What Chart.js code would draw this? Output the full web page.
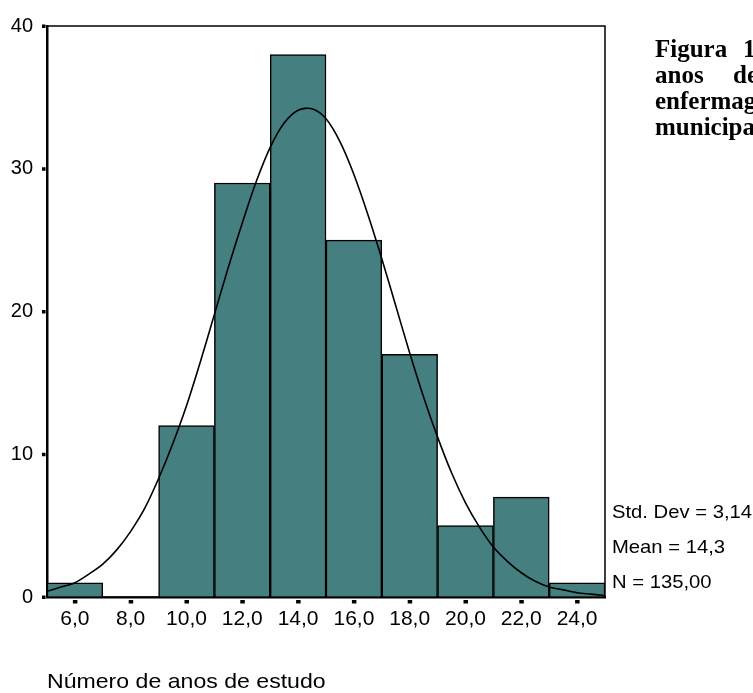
<!DOCTYPE html>
<html>
<head>
<meta charset="utf-8">
<script src="https://cdn.jsdelivr.net/npm/chart.js@4.4.1/dist/chart.umd.min.js"></script>
<style>
  html, body { margin: 0; padding: 0; background: #fff; overflow: hidden; }
  #wrap { position: relative; width: 753px; height: 693px; overflow: hidden; }
  #wrap canvas { position: absolute; left: 0; top: 0; }
  .txt { position: absolute; white-space: nowrap; color: #000; transform-origin: 0 0; }
  .sans { font-family: "Liberation Sans", Arial, sans-serif; }
  .stat { font-size: 19px; line-height: 19px; left: 612px; transform: scaleX(1.065); }
  .fig { font-family: "Liberation Serif", "Times New Roman", serif; font-weight: bold; font-size: 25px; line-height: 25px; }
</style>
</head>
<body>
<div id="wrap">
  <canvas id="histChart" width="753" height="693"></canvas>

  <div class="txt fig" style="left:655px; top:36px;">Figura</div>
  <div class="txt fig" style="left:743px; top:36px;">1.</div>
  <div class="txt fig" style="left:655px; top:62px;">anos</div>
  <div class="txt fig" style="left:733px; top:62px;">de</div>
  <div class="txt fig" style="left:655px; top:88px;">enfermagem</div>
  <div class="txt fig" style="left:655px; top:114px;">municipal</div>

  <div class="txt sans stat" style="top:502px;">Std. Dev = 3,14</div>
  <div class="txt sans stat" style="top:537px;">Mean = 14,3</div>
  <div class="txt sans stat" style="top:572px;">N = 135,00</div>

  <div class="txt sans" style="left:47px; top:670px; font-size:21px; line-height:21px; transform:scaleX(1.1);">Número de anos de estudo</div>
</div>
<script>
// histogram bins (centre of each 2-year class) and frequencies
const binCenters = [6, 8, 10, 12, 14, 16, 18, 20, 22, 24];
const counts = [1, 0, 12, 29, 38, 25, 17, 5, 7, 1];

// fitted normal curve
const curveX = [5, 5.5, 6, 6.5, 7, 7.5, 8, 8.5, 9, 9.5, 10, 10.5, 11, 11.5, 12, 12.5, 13, 13.5, 14, 14.5,
  15, 15.5, 16, 16.5, 17, 17.5, 18, 18.5, 19, 19.5, 20, 20.5, 21, 21.5, 22, 22.5, 23, 23.5, 24, 24.5, 25];
const curveY = [0.4, 0.7, 1.0, 1.6, 2.3, 3.3, 4.6, 6.2, 8.3, 10.7, 13.4, 16.5, 19.8, 23.1, 26.2, 29.1, 31.5, 33.2, 34.1, 34.2,
  33.5, 31.9, 29.6, 26.8, 23.7, 20.4, 17.1, 14.0, 11.2, 8.7, 6.6, 4.9, 3.5, 2.5, 1.7, 1.1, 0.7, 0.5, 0.3, 0.2, 0.1];

const xTicks = [6, 8, 10, 12, 14, 16, 18, 20, 22, 24];
const xTickLabels = ['6,0', '8,0', '10,0', '12,0', '14,0', '16,0', '18,0', '20,0', '22,0', '24,0'];
const yTicks = [0, 10, 20, 30, 40];

const barColor = '#457f7f';

// frame on top/right and the small square tick marks
const decorations = {
  id: 'decorations',
  afterDatasetsDraw(chart) {
    const { ctx, chartArea, scales } = chart;
    ctx.save();
    ctx.strokeStyle = '#000';
    ctx.lineWidth = 1.5;
    ctx.beginPath();
    ctx.moveTo(chartArea.left, chartArea.top);
    ctx.lineTo(chartArea.right, chartArea.top);
    ctx.lineTo(chartArea.right, chartArea.bottom);
    ctx.stroke();
    ctx.fillStyle = '#000';
    yTicks.forEach(v => {
      const y = scales.y.getPixelForValue(v);
      ctx.fillRect(chartArea.left - 5, y - 1.5, 3.5, 3.5);
    });
    xTicks.forEach(v => {
      const x = scales.x.getPixelForValue(v);
      ctx.fillRect(x - 2, chartArea.bottom + 3, 4.5, 3.5);
    });
    ctx.restore();
  }
};

Chart.defaults.color = '#000';
Chart.defaults.font.family = '"Liberation Sans", Arial, sans-serif';

new Chart(document.getElementById('histChart'), {
  type: 'bar',
  data: {
    datasets: [{
      type: 'line',
      data: curveX.map((x, i) => ({ x: x, y: curveY[i] })),
      borderColor: '#000',
      borderWidth: 1.6,
      pointRadius: 0,
      tension: 0.3,
      fill: false,
      order: 0
    }, {
      type: 'bar',
      data: binCenters.map((x, i) => ({ x: x, y: counts[i] })),
      backgroundColor: barColor,
      borderColor: '#000',
      borderWidth: (c) => (counts[c.dataIndex] ? 1.5 : 0),
      barPercentage: 1,
      categoryPercentage: 1,
      order: 1
    }]
  },
  options: {
    responsive: false,
    animation: false,
    devicePixelRatio: 1,
    layout: { padding: { left: 0, top: 22, right: 148, bottom: 0 } },
    plugins: {
      legend: { display: false },
      tooltip: { enabled: false }
    },
    scales: {
      x: {
        type: 'linear',
        min: 5,
        max: 25,
        offset: false,
        grid: { display: true, drawOnChartArea: false, drawTicks: false, offset: false },
        border: { display: true, color: '#000', width: 2.5 },
        afterBuildTicks: s => { s.ticks = xTicks.map(v => ({ value: v })); },
        afterFit: s => { s.height = 96; },
        ticks: {
          padding: 10,
          maxRotation: 0,
          autoSkip: false,
          font: { size: 21 },
          callback: (v) => xTickLabels[xTicks.indexOf(v)]
        }
      },
      y: {
        min: 0,
        max: 40,
        grid: { display: true, drawOnChartArea: false, drawTicks: false },
        border: { display: true, color: '#000', width: 2.5 },
        afterBuildTicks: s => { s.ticks = yTicks.map(v => ({ value: v })); },
        afterFit: s => { s.width = 47; },
        ticks: {
          padding: 14,
          font: { size: 20 }
        }
      }
    }
  },
  plugins: [decorations]
});
</script>
</body>
</html>
